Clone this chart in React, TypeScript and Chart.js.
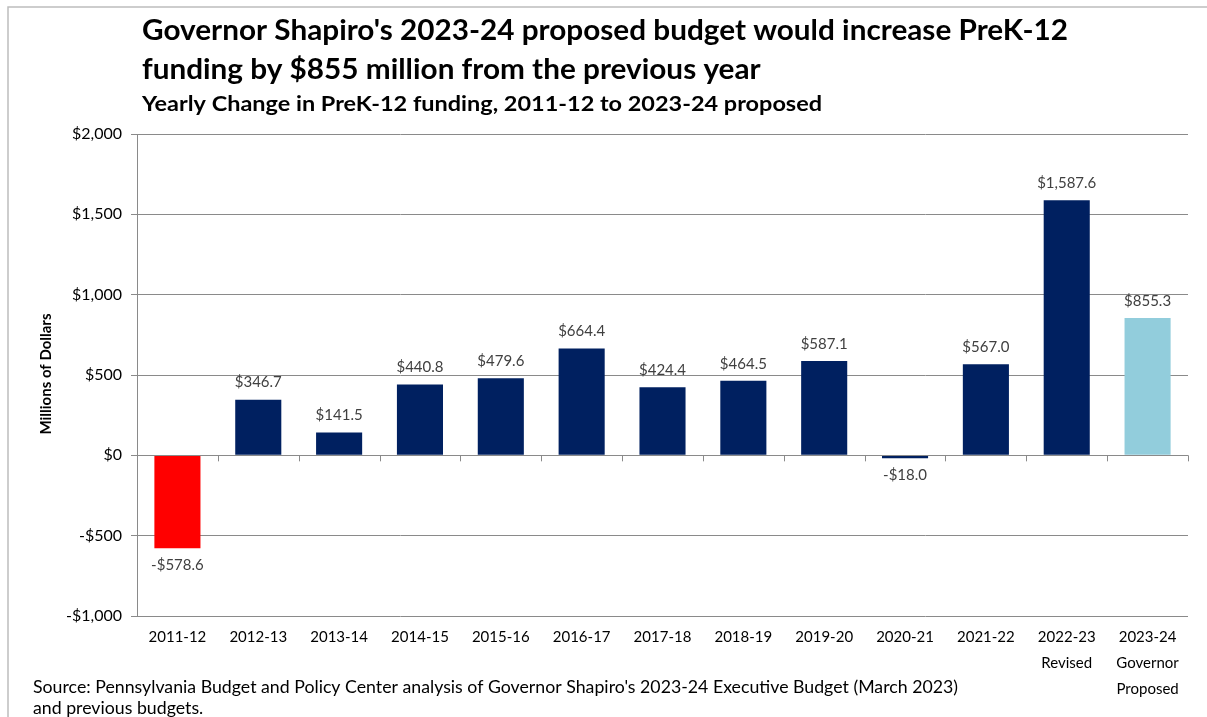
import React, { useEffect, useRef } from "react";
import { Chart, registerables } from "chart.js";

Chart.register(...registerables);

const categories: (string | string[])[] = [
  "2011-12", "2012-13", "2013-14", "2014-15", "2015-16", "2016-17", "2017-18",
  "2018-19", "2019-20", "2020-21", "2021-22", ["2022-23", "Revised"], ["2023-24", "Governor", "Proposed"],
];
const changes: number[] = [-578.6, 346.7, 141.5, 440.8, 479.6, 664.4, 424.4, 464.5, 587.1, -18.0, 567.0, 1587.6, 855.3];
const barColors: string[] = [
  "#FF0000", "#002060", "#002060", "#002060", "#002060", "#002060", "#002060",
  "#002060", "#002060", "#002060", "#002060", "#002060", "#92CDDC",
];
const titleLines: string[] = [
  "Governor Shapiro's 2023-24 proposed budget would increase PreK-12",
  "funding by $855 million from the previous year",
];
const subtitle = "Yearly Change in PreK-12 funding, 2011-12 to 2023-24 proposed";
const sourceLines: string[] = [
  "Source: Pennsylvania Budget and Policy Center analysis of Governor Shapiro's 2023-24 Executive Budget (March 2023)",
  "and previous budgets.",
];
const yAxisTitle = "Millions of Dollars";
const yMin = -1000;
const yMax = 2000;
const yStep = 500;

const FONT = "Lato, 'Open Sans', sans-serif";

function money(v: number, decimals: number): string {
  const s = Math.abs(v).toLocaleString("en-US", { minimumFractionDigits: decimals, maximumFractionDigits: decimals });
  return (v < 0 ? "-$" : "$") + s;
}

// draw left-aligned text stretched horizontally by factor sx
function drawStretched(ctx: any, text: string, x: number, y: number, sx: number) {
  ctx.save();
  ctx.translate(x, y);
  ctx.scale(sx, 1);
  ctx.fillText(text, 0, 0);
  ctx.restore();
}

const decorPlugin = {
  id: "decor",
  beforeDraw(chart: any) {
    const ctx = chart.ctx;
    ctx.save();
    ctx.fillStyle = "#ffffff";
    ctx.fillRect(0, 0, chart.width, chart.height);
    ctx.strokeStyle = "#bdbdbd";
    ctx.lineWidth = 1.5;
    ctx.beginPath();
    ctx.moveTo(8, chart.height);
    ctx.lineTo(8, 7);
    ctx.lineTo(chart.width, 7);
    ctx.stroke();
    ctx.restore();
  },
  afterDraw(chart: any) {
    const ctx = chart.ctx;
    const x = chart.scales.x;
    const y = chart.scales.y;
    ctx.save();
    // ticks on the zero line between categories
    const y0 = y.getPixelForValue(0);
    ctx.strokeStyle = "#8a8a8a";
    ctx.lineWidth = 1;
    const n = categories.length;
    const step = (x.right - x.left) / n;
    ctx.beginPath();
    ctx.moveTo(chart.chartArea.left, Math.round(y0) + 0.5);
    ctx.lineTo(chart.chartArea.right, Math.round(y0) + 0.5);
    for (let i = 1; i <= n; i++) {
      const px = Math.round(x.left + step * i) + 0.5;
      ctx.moveTo(px, y0);
      ctx.lineTo(px, y0 + 6);
    }
    ctx.stroke();

    // data labels
    const meta = chart.getDatasetMeta(0);
    ctx.fillStyle = "#404040";
    ctx.font = `15px ${FONT}`;
    ctx.textAlign = "center";
    ctx.textBaseline = "middle";
    meta.data.forEach((bar: any, i: number) => {
      const v = changes[i];
      const ly = v >= 0 ? bar.y - 17 : bar.y + 17;
      ctx.fillText(money(v, 1), bar.x, ly);
    });

    // titles
    ctx.fillStyle = "#000000";
    ctx.textAlign = "left";
    ctx.textBaseline = "middle";
    ctx.font = `bold 28px ${FONT}`;
    const tsx = 926 / ctx.measureText(titleLines[0]).width;
    drawStretched(ctx, titleLines[0], 142, 31, tsx);
    drawStretched(ctx, titleLines[1], 142, 70, tsx);
    ctx.font = `bold 21px ${FONT}`;
    drawStretched(ctx, subtitle, 142, 104, 680 / ctx.measureText(subtitle).width);

    // y axis title
    ctx.save();
    ctx.translate(46, 374);
    ctx.rotate(-Math.PI / 2);
    ctx.textAlign = "center";
    ctx.font = `bold 15px ${FONT}`;
    ctx.fillText(yAxisTitle, 0, 0);
    ctx.restore();

    // source
    ctx.font = `16.5px ${FONT}`;
    const ssx = 925 / ctx.measureText(sourceLines[0]).width;
    drawStretched(ctx, sourceLines[0], 33, 688, ssx);
    drawStretched(ctx, sourceLines[1], 33, 709, ssx);
    ctx.restore();
  },
};

export default function App() {
  const ref = useRef<HTMLCanvasElement>(null);
  useEffect(() => {
    document.body.style.margin = "0";
    const chart = new Chart(ref.current!, {
      type: "bar",
      data: {
        labels: categories,
        datasets: [
          {
            data: changes,
            backgroundColor: barColors,
            borderWidth: 0,
            barPercentage: 0.57,
            categoryPercentage: 1,
          },
        ],
      },
      options: {
        animation: false,
        responsive: false,
        layout: { padding: { left: 0, right: 19, top: 134, bottom: 0 } },
        plugins: { legend: { display: false }, tooltip: { enabled: false }, title: { display: false } },
        scales: {
          x: {
            grid: { display: false, drawTicks: false },
            border: { display: false },
            ticks: {
              color: "#000000",
              font: { family: FONT, size: 15, lineHeight: 1.75 },
              padding: 8,
              maxRotation: 0,
              autoSkip: false,
            },
            afterFit(scale: any) {
              scale.height = 101;
            },
          },
          y: {
            min: yMin,
            max: yMax,
            grid: { color: "#8a8a8a", lineWidth: 1, tickLength: 6, drawTicks: true },
            border: { display: true, color: "#8a8a8a", width: 1 },
            ticks: {
              stepSize: yStep,
              color: "#000000",
              font: { family: FONT, size: 16 },
              padding: 9,
              callback: (v: any) => money(Number(v), 0),
            },
            afterFit(scale: any) {
              scale.width = 137;
            },
          },
        },
      },
      plugins: [decorPlugin],
    });
    return () => chart.destroy();
  }, []);
  return <canvas ref={ref} width={1207} height={717} style={{ display: "block" }} />;
}
